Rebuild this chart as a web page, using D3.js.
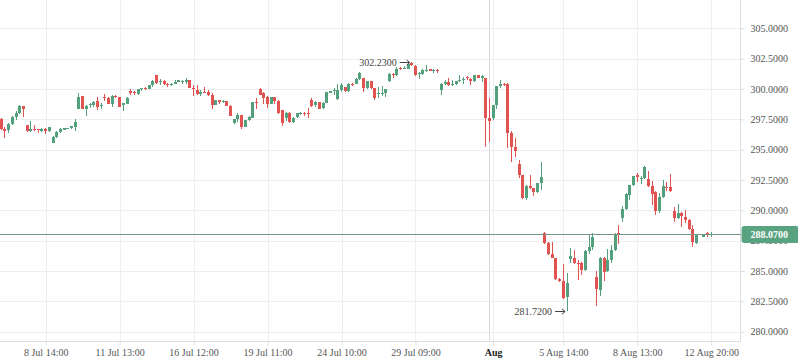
<!DOCTYPE html>
<html>
<head>
<meta charset="utf-8">
<script src="https://cdn.jsdelivr.net/npm/d3@7"></script>
<style>
  body { margin: 0; background: #fff; }
  svg { display: block; font-family: "Liberation Serif", "DejaVu Serif", serif; }
</style>
</head>
<body>
<svg id="plot"></svg>
<script>
const width = 798;
const height = 363;
const plotRight = 740.5;
const plotBottom = 341.5;

// hourly candles (index 0 = first visible candle)
const open = [
  297.50,296.70,296.61,297.08,297.71,298.04,298.59,297.02,296.53,296.70,
  296.70,296.53,296.70,296.53,295.57,296.06,296.45,296.64,296.75,296.75,
  296.89,298.37,299.41,298.34,298.64,298.72,299.05,298.59,299.35,299.27,
  298.78,299.44,299.30,298.67,298.78,299.85,299.77,299.55,299.96,300.10,
  299.99,300.29,301.14,300.59,300.67,300.45,300.34,300.45,300.59,300.56,
  300.59,300.73,300.10,299.90,299.60,299.77,299.77,299.49,298.72,299.08,
  298.92,299.00,298.61,297.22,297.52,297.85,296.89,297.43,297.63,298.94,
  299.98,299.63,299.35,298.80,299.30,299.00,298.26,297.57,298.06,297.30,
  297.65,297.98,298.04,297.98,299.13,298.67,298.89,298.47,298.86,299.68,
  299.85,299.16,299.90,300.17,299.85,300.45,300.45,300.86,300.91,300.04,
  300.64,300.04,299.62,299.57,299.68,300.67,301.27,301.14,301.74,301.68,
  301.68,302.15,301.90,301.22,301.22,301.49,301.63,301.49,301.60,299.90,
  300.45,300.59,300.34,300.39,300.67,300.72,301.00,300.86,300.64,301.14,
  300.94,300.91,297.57,297.57,298.67,300.26,300.45,300.45,296.39,295.24,
  293.82,292.91,291.05,292.03,291.81,291.54,292.23,288.17,287.35,286.41,
  286.06,284.36,284.14,282.85,285.98,286.11,285.70,285.65,285.10,286.61,
  287.02,284.47,283.45,286.06,285.04,285.92,286.74,288.12,289.35,290.09,
  291.27,292.09,292.91,292.60,292.64,292.59,292.01,291.54,289.98,291.13,
  291.96,291.90,289.98,289.35,289.82,289.49,289.21,288.47,287.35,287.98,
  287.84,288.12,287.98
];
const high = [
  297.60,296.90,297.16,297.76,298.18,298.67,298.59,297.02,297.35,297.02,
  296.70,296.78,296.75,296.90,296.12,296.50,296.80,296.80,296.82,296.95,
  297.52,299.68,299.46,298.67,298.81,299.02,299.30,298.86,299.55,299.30,
  299.49,299.52,299.35,298.86,299.30,299.96,299.85,300.00,300.07,300.15,
  300.30,300.78,301.16,300.80,300.73,300.50,300.50,300.73,300.75,300.73,
  300.92,300.73,300.32,300.32,299.90,300.18,299.90,299.63,299.10,299.10,
  299.13,299.05,298.64,297.52,298.06,297.88,297.45,297.75,298.94,299.22,
  300.09,299.71,299.40,299.38,299.32,299.08,298.30,298.10,298.10,297.71,
  298.06,298.12,298.12,298.47,299.22,299.00,298.92,298.89,299.79,299.85,
  300.04,300.37,300.50,300.17,300.50,300.53,300.90,301.41,300.93,300.67,
  300.67,300.09,300.15,300.23,299.99,301.33,301.33,301.77,301.82,301.90,
  302.09,302.23,301.96,301.41,301.68,301.96,301.66,301.68,301.68,300.50,
  300.72,300.91,300.72,300.67,301.14,301.00,301.08,300.90,301.16,301.16,
  301.14,300.93,299.27,298.70,300.25,300.78,300.50,300.50,296.53,295.98,
  294.14,292.91,292.05,292.91,291.85,292.25,293.95,288.25,287.37,287.37,
  286.10,284.40,285.56,284.82,286.88,286.74,285.92,285.78,286.74,287.98,
  288.11,285.04,286.14,286.14,286.80,287.15,288.10,288.80,290.36,291.46,
  292.10,292.85,293.05,292.83,293.62,293.27,292.45,291.56,291.41,292.50,
  292.37,293.00,290.25,290.53,289.85,290.04,289.25,288.80,288.00,288.06,
  287.95,288.25,288.25
];
const low = [
  296.60,295.98,296.40,297.02,297.43,297.90,297.71,296.47,296.47,296.53,
  296.34,296.47,296.28,296.47,295.52,296.00,296.34,296.60,296.72,296.72,
  296.56,298.31,298.31,297.79,298.40,298.53,298.26,298.31,299.03,298.75,
  298.53,299.22,298.48,298.20,298.75,299.52,299.52,299.50,299.82,299.93,
  299.97,300.18,300.45,300.32,300.32,300.18,300.26,300.40,300.55,300.45,
  300.45,300.04,299.44,299.52,299.44,299.63,299.41,298.34,298.70,298.75,
  298.81,298.58,297.75,297.11,297.30,296.72,296.85,297.40,297.60,298.31,
  299.49,298.80,298.45,298.75,298.75,297.93,296.97,297.38,297.21,297.16,
  297.60,297.85,297.76,297.62,298.53,298.53,298.31,298.39,298.83,299.65,
  299.49,299.08,299.76,299.76,299.76,300.26,300.43,300.78,299.76,300.00,
  300.00,299.13,299.25,299.41,299.35,300.59,300.94,301.05,301.60,301.63,
  301.63,301.93,301.05,300.86,301.14,301.41,301.46,301.33,301.33,299.49,
  300.31,300.26,300.26,300.36,300.59,300.45,300.78,300.34,300.60,300.88,
  300.59,295.24,295.65,297.43,298.39,300.04,300.25,295.10,294.01,294.42,
  292.69,290.94,290.86,291.76,291.21,291.40,291.68,287.24,286.33,286.06,
  284.22,284.10,282.71,281.72,285.70,285.59,284.28,284.69,285.04,286.41,
  286.74,282.08,282.96,284.19,284.96,285.70,286.61,287.24,289.08,290.04,
  290.86,292.04,292.31,292.17,292.59,291.96,290.45,289.62,289.76,290.99,
  291.63,291.54,289.08,289.27,288.61,288.99,288.39,287.02,287.24,287.96,
  287.82,287.79,287.79
];
const close = [
  296.67,296.56,297.08,297.71,298.06,298.59,298.34,296.53,296.70,296.61,
  296.61,296.70,296.56,296.86,296.06,296.47,296.70,296.75,296.80,296.91,
  297.27,299.35,298.37,298.61,298.78,298.94,298.53,298.70,299.22,298.78,
  299.41,299.35,298.53,298.81,299.27,299.63,299.63,299.96,300.04,299.96,
  300.29,300.67,300.51,300.67,300.40,300.34,300.45,300.59,300.70,300.64,
  300.78,300.12,299.96,299.57,299.77,299.68,299.49,298.72,299.08,298.94,
  299.03,298.61,297.79,297.49,297.85,296.83,297.43,297.71,298.90,298.86,
  299.54,299.22,298.80,299.35,299.00,297.98,297.16,298.06,297.30,297.63,
  298.04,298.04,297.90,297.90,298.58,298.89,298.39,298.86,299.76,299.82,
  299.90,299.90,300.31,299.85,300.45,300.34,300.86,301.35,300.04,300.64,
  300.04,299.25,299.70,299.68,299.98,301.22,301.14,301.68,301.63,301.74,
  302.04,301.98,301.14,301.30,301.60,301.60,301.49,301.55,301.49,300.45,
  300.59,300.34,300.45,300.64,300.78,300.81,300.89,300.64,301.14,300.91,
  301.05,297.57,297.38,298.67,300.23,300.45,300.31,296.39,295.24,294.91,
  292.91,291.05,292.03,291.87,291.54,292.23,292.77,287.35,286.41,286.11,
  284.33,284.14,282.77,284.00,286.20,285.65,285.59,285.10,286.61,287.02,
  287.84,283.51,286.06,284.96,285.92,286.74,288.06,288.01,290.09,291.32,
  292.09,292.83,292.72,292.70,293.60,292.01,291.35,289.98,291.13,292.01,
  291.82,291.63,289.41,289.82,289.57,289.21,288.47,287.43,287.98,288.04,
  287.93,287.98,288.07
];

const yTicks = [280, 282.5, 285, 287.5, 290, 292.5, 295, 297.5, 300, 302.5, 305];
const xTickIndex = [12, 32, 52, 72, 92, 112, 133, 152, 172, 192];
const xTickLabels = ['8 Jul 14:00', '11 Jul 13:00', '16 Jul 12:00', '19 Jul 11:00',
  '24 Jul 10:00', '29 Jul 09:00', 'Aug', '5 Aug 14:00', '8 Aug 13:00', '12 Aug 20:00'];
const monthBreak = 132;     // separator line before the "Aug" tick
const lastPrice = 288.07;

const upColor = '#53a07c';
const downColor = '#e05350';
const gridColor = '#eceef1';
const axisColor = '#d9dde2';

function main(){
  let chart = new Chart('#plot', width, height)
  .initGrid()
  .initAxes()
  .initCandles()
  .initMarkers();
  window.chart = chart;
}

class Chart{
  constructor(id, width, height){
    this.svg = d3.select('svg' + id)
    .attr('width', width)
    .attr('height', height);

    this.sx = d3.scaleLinear()
    .domain([0, 192])
    .range([1.3, 711.3]);

    this.sy = d3.scaleLinear()
    .domain([280, 305])
    .range([331.7, 28.3]);
  }

  initGrid(){
    let g = this.svg.append('g')
    .attr('shape-rendering', 'crispEdges');

    g.selectAll('.hgrid')
    .data(yTicks)
    .enter()
    .append('line')
    .attr('class', 'hgrid')
    .attr('x1', 0)
    .attr('x2', plotRight)
    .attr('y1', d=>Math.round(this.sy(d)) + 0.5)
    .attr('y2', d=>Math.round(this.sy(d)) + 0.5)
    .attr('stroke', gridColor);

    g.selectAll('.vgrid')
    .data(xTickIndex)
    .enter()
    .append('line')
    .attr('class', 'vgrid')
    .attr('x1', d=>Math.round(this.sx(d)) + 0.5)
    .attr('x2', d=>Math.round(this.sx(d)) + 0.5)
    .attr('y1', 0)
    .attr('y2', plotBottom)
    .attr('stroke', gridColor);

    // month separator
    g.append('line')
    .attr('x1', Math.round(this.sx(monthBreak)) + 0.5)
    .attr('x2', Math.round(this.sx(monthBreak)) + 0.5)
    .attr('y1', 0)
    .attr('y2', plotBottom)
    .attr('stroke', '#d6d9de')
    .attr('stroke-width', 1.5);

    // frame: right and bottom axis lines
    g.append('line')
    .attr('x1', plotRight).attr('x2', plotRight)
    .attr('y1', 0).attr('y2', plotBottom)
    .attr('stroke', axisColor);
    g.append('line')
    .attr('x1', 0).attr('x2', plotRight)
    .attr('y1', plotBottom).attr('y2', plotBottom)
    .attr('stroke', axisColor);
    return this;
  }

  initAxes(){
    this.ay = d3.axisRight(this.sy)
    .tickValues(yTicks)
    .tickFormat(d=>d.toFixed(4))
    .tickSize(4)
    .tickPadding(6);
    this.gy = this.svg.append('g')
    .attr('transform', `translate(${plotRight},0)`)
    .call(this.ay);

    this.ax = d3.axisBottom(this.sx)
    .tickValues(xTickIndex)
    .tickFormat((d,i)=>xTickLabels[i])
    .tickSize(4)
    .tickPadding(3);
    this.gx = this.svg.append('g')
    .attr('transform', `translate(0,${plotBottom})`)
    .call(this.ax);

    [this.gx, this.gy].forEach(g=>{
      g.select('.domain').remove();
      g.selectAll('.tick line').attr('stroke', axisColor);
      g.selectAll('.tick text')
      .attr('fill', '#555')
      .style('font-family', '"Liberation Serif", serif')
      .style('font-size', '10px');
    });

    this.gx.selectAll('.tick text')
    .filter(d=>d === xTickIndex[6])
    .attr('fill', '#222')
    .style('font-weight', 'bold');
    return this;
  }

  initCandles(){
    let data = d3.range(open.length).map(i=>({
      i: i, o: open[i], h: high[i], l: low[i], c: close[i]
    }));

    this.candles = this.svg.append('g')
    .attr('shape-rendering', 'crispEdges')
    .selectAll('.candle')
    .data(data)
    .enter()
    .append('g')
    .attr('class', 'candle');

    let cx = d=>Math.round(this.sx(d.i) - 1.5);
    let col = d=>d.c >= d.o ? upColor : downColor;

    this.candles.append('line')
    .attr('x1', d=>cx(d) + 1.5)
    .attr('x2', d=>cx(d) + 1.5)
    .attr('y1', d=>this.sy(d.h))
    .attr('y2', d=>this.sy(d.l))
    .attr('stroke', col);

    this.candles.append('rect')
    .attr('x', cx)
    .attr('width', 3)
    .attr('y', d=>this.sy(Math.max(d.o, d.c)))
    .attr('height', d=>Math.max(1, Math.abs(this.sy(d.o) - this.sy(d.c))))
    .attr('fill', col);
    return this;
  }

  initMarkers(){
    // last price line + label (the 287.5 tick label peeks out below it, as in the original)
    let yl = Math.round(this.sy(lastPrice)) + 0.5;
    this.svg.append('line')
    .attr('x1', 0)
    .attr('x2', plotRight)
    .attr('y1', yl)
    .attr('y2', yl)
    .attr('stroke', '#74978a')
    .attr('shape-rendering', 'crispEdges');

    this.svg.append('rect')
    .attr('x', plotRight + 1)
    .attr('y', yl - 8.5)
    .attr('width', width - plotRight)
    .attr('height', 17)
    .attr('rx', 3)
    .attr('fill', '#5aa381');
    this.svg.append('text')
    .attr('x', plotRight + 10)
    .attr('y', yl)
    .attr('dy', '0.35em')
    .attr('fill', '#fff')
    .style('font-size', '10px')
    .style('font-weight', 'bold')
    .text(lastPrice.toFixed(4));

    // highest high and lowest low annotations
    let iMax = d3.maxIndex(high);
    let iMin = d3.minIndex(low);
    this.annotate(iMax, high[iMax]);
    this.annotate(iMin, low[iMin]);
    return this;
  }

  annotate(i, value){
    let x = this.sx(i) - 2;
    let y = Math.round(this.sy(value)) + 0.5;
    let g = this.svg.append('g');
    g.append('text')
    .attr('x', x - 13)
    .attr('y', y)
    .attr('dy', '0.35em')
    .attr('text-anchor', 'end')
    .attr('fill', '#444')
    .style('font-size', '10px')
    .text(value.toFixed(4));
    g.append('path')
    .attr('d', `M${x-10},${y}H${x}M${x-3},${y-2.5}L${x},${y}L${x-3},${y+2.5}`)
    .attr('fill', 'none')
    .attr('stroke', '#444')
    .attr('stroke-width', 1);
  }
}

document.addEventListener('DOMContentLoaded', main);
</script>
</body>
</html>
